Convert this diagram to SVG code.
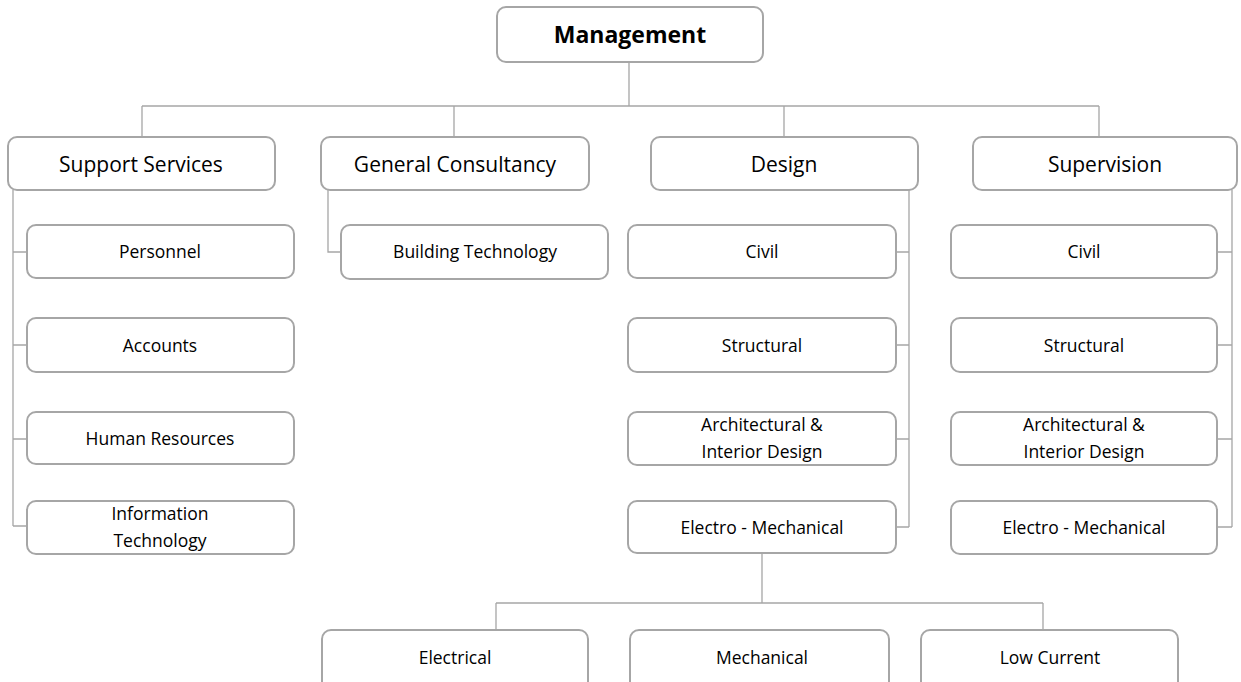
<svg xmlns="http://www.w3.org/2000/svg" width="1241" height="682" viewBox="0 0 1241 682">
<style>
.box{fill:#fff;stroke:#a6a6a6;stroke-width:2}
.ln{fill:none;stroke:#a6a6a6;stroke-width:1.3}
text{font-family:"Open Sans","Noto Sans",sans-serif;fill:#000;text-anchor:middle}
.t1{font-size:21px}
.t2{font-size:17.5px}
.t0{font-size:23px;font-weight:bold}
</style>
<rect width="1241" height="682" fill="#fff"/>
<g id="connectors">
<path class="ln" d="M629,62V106M142,106H1099M142,106V137M454,106V137M784,106V137M1099,106V137"/>
<path class="ln" d="M13,190V526M13,252H27M13,345H27M13,439H27M13,526H27"/>
<path class="ln" d="M328,190V252H341"/>
<path class="ln" d="M909,190V527M909,252H896M909,345H896M909,439H896M909,527H896"/>
<path class="ln" d="M1232,190V527M1232,252H1217M1232,345H1217M1232,439H1217M1232,527H1217"/>
<path class="ln" d="M762,553V603M496,603H1043M496,603V630M1043,603V630"/>
</g>
<g id="management"><rect class="box" x="497" y="7" width="266" height="55" rx="9"/><text class="t0" x="630" y="43">Management</text></g>
<g id="support"><rect class="box" x="8" y="137" width="267" height="53" rx="9"/><text class="t1" x="141" y="172">Support Services</text></g>
<g id="consultancy"><rect class="box" x="321" y="137" width="268" height="53" rx="9"/><text class="t1" x="455" y="172">General Consultancy</text></g>
<g id="design"><rect class="box" x="651" y="137" width="267" height="53" rx="9"/><text class="t1" x="784" y="172">Design</text></g>
<g id="supervision"><rect class="box" x="973" y="137" width="264" height="53" rx="9"/><text class="t1" x="1105" y="172">Supervision</text></g>

<g id="personnel"><rect class="box" x="27" y="225" width="267" height="53" rx="9"/><text class="t2" x="160" y="258">Personnel</text></g>
<g id="accounts"><rect class="box" x="27" y="318" width="267" height="54" rx="9"/><text class="t2" x="160" y="352">Accounts</text></g>
<g id="hr"><rect class="box" x="27" y="412" width="267" height="52" rx="9"/><text class="t2" x="160" y="445">Human Resources</text></g>
<g id="it"><rect class="box" x="27" y="501" width="267" height="53" rx="9"/><text class="t2" x="160" y="520">Information</text><text class="t2" x="160" y="547">Technology</text></g>

<g id="buildingtech"><rect class="box" x="341" y="225" width="267" height="54" rx="9"/><text class="t2" x="475" y="258">Building Technology</text></g>

<g id="d-civil"><rect class="box" x="628" y="225" width="268" height="53" rx="9"/><text class="t2" x="762" y="258">Civil</text></g>
<g id="d-structural"><rect class="box" x="628" y="318" width="268" height="54" rx="9"/><text class="t2" x="762" y="352">Structural</text></g>
<g id="d-arch"><rect class="box" x="628" y="412" width="268" height="53" rx="9"/><text class="t2" x="762" y="431">Architectural &amp;</text><text class="t2" x="762" y="458">Interior Design</text></g>
<g id="d-em"><rect class="box" x="628" y="501" width="268" height="52" rx="9"/><text class="t2" x="762" y="534">Electro - Mechanical</text></g>

<g id="s-civil"><rect class="box" x="951" y="225" width="266" height="53" rx="9"/><text class="t2" x="1084" y="258">Civil</text></g>
<g id="s-structural"><rect class="box" x="951" y="318" width="266" height="54" rx="9"/><text class="t2" x="1084" y="352">Structural</text></g>
<g id="s-arch"><rect class="box" x="951" y="412" width="266" height="53" rx="9"/><text class="t2" x="1084" y="431">Architectural &amp;</text><text class="t2" x="1084" y="458">Interior Design</text></g>
<g id="s-em"><rect class="box" x="951" y="501" width="266" height="53" rx="9"/><text class="t2" x="1084" y="534">Electro - Mechanical</text></g>

<g id="electrical"><rect class="box" x="322" y="630" width="266" height="60" rx="9"/><text class="t2" x="455" y="664">Electrical</text></g>
<g id="mechanical"><rect class="box" x="630" y="630" width="259" height="60" rx="9"/><text class="t2" x="762" y="664">Mechanical</text></g>
<g id="lowcurrent"><rect class="box" x="921" y="630" width="257" height="60" rx="9"/><text class="t2" x="1050" y="664">Low Current</text></g>
</svg>
